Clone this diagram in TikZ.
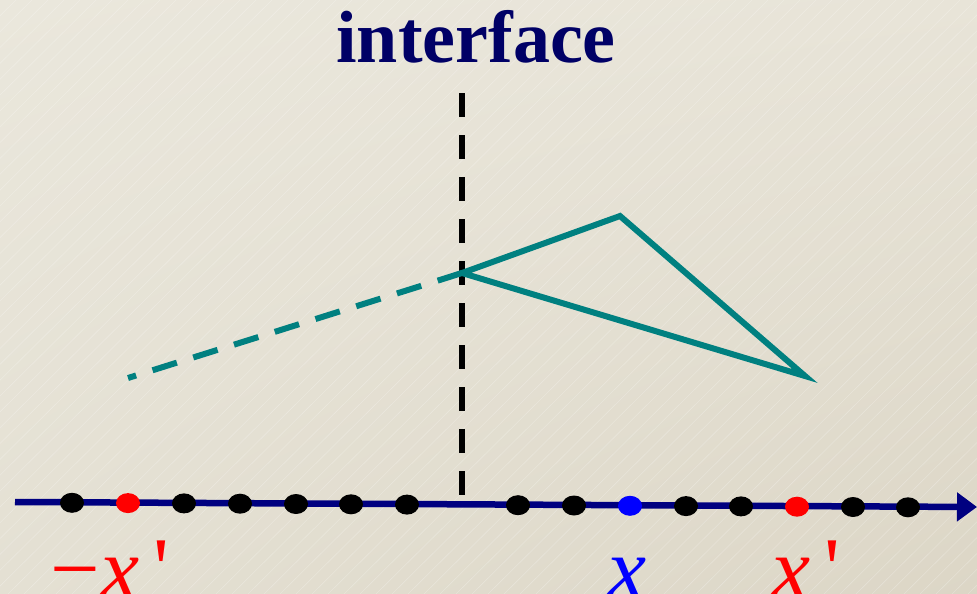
\documentclass[tikz,border=0pt]{standalone}
\usepackage{fontspec}
\setmainfont{Liberation Serif}
\usetikzlibrary{arrows.meta,shapes.geometric,shadings}
\definecolor{navy}{RGB}{0,0,128}
\definecolor{titlenavy}{RGB}{0,0,102}
\definecolor{tealc}{RGB}{0,128,128}
\definecolor{bgA}{RGB}{234,231,220}
\definecolor{bgB}{RGB}{232,228,216}
\definecolor{bgC}{RGB}{228,224,211}
\definecolor{bgD}{RGB}{220,214,198}
\tikzset{
  dot/.style={ellipse, minimum width=24pt, minimum height=20pt, inner sep=0pt, fill=black},
  reddot/.style={dot, fill=red},
  bluedot/.style={dot, fill=blue},
  axisline/.style={draw=navy, line width=6.5pt, -{Triangle[length=20pt,width=28pt]}},
  ifline/.style={draw=black, line width=6pt, dash pattern=on 24pt off 18pt},
  pathline/.style={draw=tealc, line width=6pt, line join=miter},
  pathdash/.style={draw=tealc, line width=6pt, dash pattern=on 25.5pt off 17.2pt},
  bgline/.style={draw=white, line width=0.6pt, opacity=0.25},
  lbl/.style={inner sep=0pt, font=\fontsize{88}{88}\selectfont, anchor=base}
}
\begin{document}
\begin{tikzpicture}[x=1pt,y=-1pt]
\useasboundingbox (0,0) rectangle (977,594);
\shade[upper left=bgA, upper right=bgB, lower left=bgC, lower right=bgD] (0,0) rectangle (977,594);
\begin{scope}
\clip (0,0) rectangle (977,594);
\foreach \k in {0,16,...,1600} {
  \draw[bgline] (\k-600,594) -- (\k,0);
}
\end{scope}
% axis
\coordinate (a0) at (15,502);
\coordinate (a1) at (977,507);
\draw[axisline] (a0) -- (a1);
% interface line
\coordinate (i0) at (462,93);
\coordinate (i1) at (462,500);
\draw[ifline] (i0) -- (i1);
% title
\node[inner sep=0pt, anchor=base, text=titlenavy, font=\fontsize{74}{74}\selectfont\bfseries] (title) at (476,63) {interface};
% dots
\node[dot] (d1) at (72,502.8) {};
\node[reddot] (d2) at (128,503.1) {};
\node[dot] (d3) at (184,503.4) {};
\node[dot] (d4) at (240,503.7) {};
\node[dot] (d5) at (296,504) {};
\node[dot] (d6) at (351,504.3) {};
\node[dot] (d7) at (407,504.6) {};
\node[dot] (d8) at (518,505.2) {};
\node[dot] (d9) at (574,505.5) {};
\node[bluedot] (d10) at (630,505.8) {};
\node[dot] (d11) at (686,506.1) {};
\node[dot] (d12) at (741,506.4) {};
\node[reddot] (d13) at (797,506.7) {};
\node[dot] (d14) at (853,507) {};
\node[dot] (d15) at (908,507.3) {};
% path
\coordinate (p0) at (462,273);
\coordinate (p1) at (620,216);
\coordinate (p2) at (805,376);
\coordinate (p3) at (128,378);
\draw[pathline] (p0) -- (p1) -- (p2) -- cycle;
\draw[pathdash] (p0) -- (p3);
% labels
\node[lbl, text=red] (lm) at (110,598) {−\textit{x}\,\textquotesingle};
\node[lbl, text=blue] (lx) at (627,598) {\textit{x}};
\node[lbl, text=red] (lp) at (806,598) {\textit{x}\,\textquotesingle};
\end{tikzpicture}
\end{document}
